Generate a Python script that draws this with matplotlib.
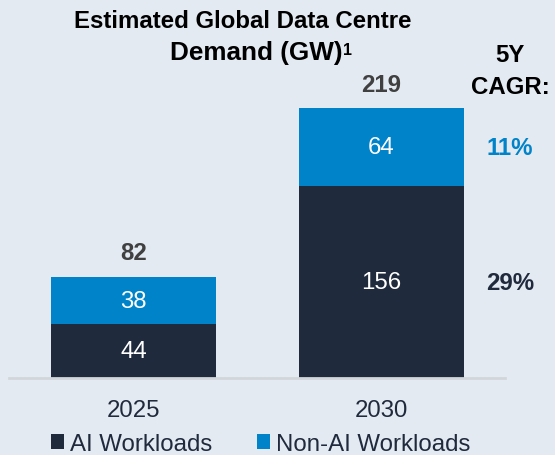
import matplotlib
matplotlib.use("Agg")
import matplotlib.pyplot as plt

plt.rcParams['font.family'] = ['Liberation Sans', 'DejaVu Sans']

categories = ["2025", "2030"]
ai_workloads = [44, 156]
non_ai_workloads = [38, 64]
totals = [82, 219]
cagr_labels = ["29%", "11%"]  # AI, Non-AI

BG = "#e4eaf2"
NAVY = "#1f2a3c"
BLUE = "#0083c9"
GRAY_TXT = "#404040"
FS = 17.3

W, H = 555, 456
fig = plt.figure(figsize=(W / 100, H / 100), dpi=100, facecolor=BG)

left_px, right_px = 9, 505
base_px = 379  # from top
ax = fig.add_axes([left_px / W, (H - base_px) / H, (right_px - left_px) / W, base_px / H])
ax.set_facecolor(BG)

px_per_unit = (379 - 110) / 219.0
spacing = 248.0
c0 = 133.5
ax.set_xlim(-(c0 - left_px) / spacing, (right_px - c0) / spacing)
ax.set_ylim(0, base_px / px_per_unit)

x = list(range(len(categories)))
width = 165 / spacing
ax.bar(x, ai_workloads, width=width, color=NAVY, label="AI Workloads")
ax.bar(x, non_ai_workloads, width=width, bottom=ai_workloads, color=BLUE, label="Non-AI Workloads")

for i in x:
    ax.text(i, ai_workloads[i] / 2, str(ai_workloads[i]), ha="center", va="center",
            color="white", fontsize=FS)
    ax.text(i, ai_workloads[i] + non_ai_workloads[i] / 2, str(non_ai_workloads[i]),
            ha="center", va="center", color="white", fontsize=FS)
    ax.text(i, totals[i] + 20, str(totals[i]), ha="center", va="center",
            color=GRAY_TXT, fontsize=FS, fontweight="bold")

for s in ax.spines.values():
    s.set_visible(False)
ax.axhline(0, color="#d2d6da", lw=2, clip_on=False)
ax.set_yticks([])
ax.set_xticks(x)
ax.set_xticklabels(categories, fontsize=FS, color=NAVY)
ax.tick_params(axis="x", length=0, pad=15)

# CAGR column
cagr_x = (510 - c0) / spacing
fig.text(510 / W, 1 - 55 / H, "5Y", ha="center", va="center", fontsize=FS, fontweight="bold", color="black")
fig.text(510 / W, 1 - 88 / H, "CAGR:", ha="center", va="center", fontsize=FS, fontweight="bold", color="black")
ax.text(cagr_x, ai_workloads[1] + non_ai_workloads[1] / 2, cagr_labels[1],
        ha="center", va="center", fontsize=FS, fontweight="bold", color=BLUE)
ax.text(cagr_x, ai_workloads[1] / 2, cagr_labels[0], ha="center", va="center",
        fontsize=FS, fontweight="bold", color=NAVY)

# Title
fig.text(243 / W, 1 - 22 / H, "Estimated Global Data Centre", ha="center", va="center",
         fontsize=FS, fontweight="bold", color="black")
fig.text(343 / W, 1 - 53 / H, "Demand (GW)", ha="right", va="center",
         fontsize=18.8, fontweight="bold", color="black")
fig.text(343 / W, 1 - 43 / H, "1", ha="left", va="top",
         fontsize=11.5, fontweight="bold", color="black")

# Legend
leg = fig.legend(loc="center left", bbox_to_anchor=(39 / W, 1 - 445 / H), ncol=2,
                 frameon=False, fontsize=FS, handlelength=0.55, handleheight=0.55,
                 handletextpad=0.25, columnspacing=1.85, labelcolor=NAVY, borderpad=0)

fig.savefig("out.png", dpi=100, facecolor=BG)
